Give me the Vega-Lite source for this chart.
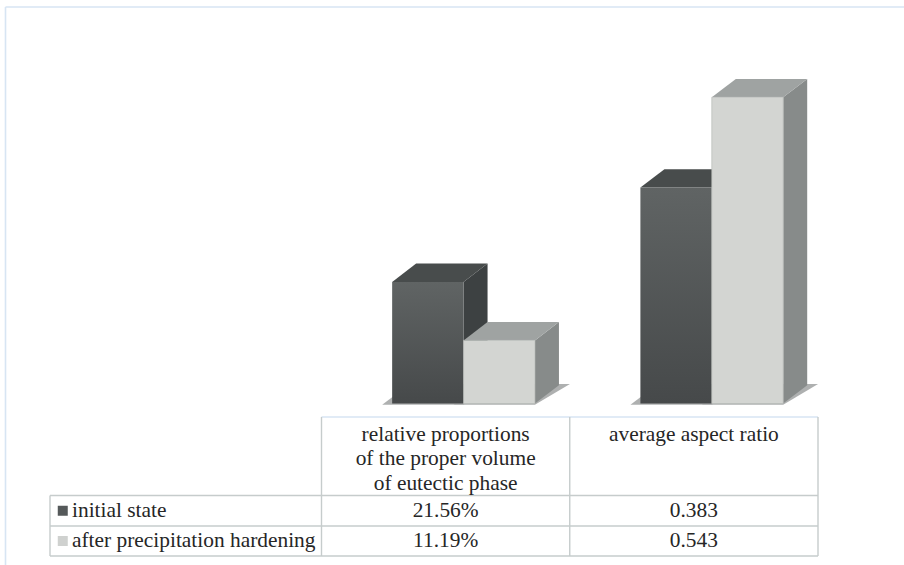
{
"$schema":"https://vega.github.io/schema/vega-lite/v6.json",
"autosize":{"type":"fit","contains":"padding"},
"width":904,"height":565,"padding":0,"background":"white",
"config":{"view":{"stroke":null}},
"datasets":{
"bars":[
{"metric":"relative proportions of the proper volume of eutectic phase","state":"initial state","value":0.2156,"group":1,"order":0},
{"metric":"relative proportions of the proper volume of eutectic phase","state":"after precipitation hardening","value":0.1119,"group":1,"order":1},
{"metric":"average aspect ratio","state":"initial state","value":0.383,"group":2,"order":0},
{"metric":"average aspect ratio","state":"after precipitation hardening","value":0.543,"group":2,"order":1}
],
"frame":[{"col":-1,"col2":4,"row":-1,"row2":-1},{"col":-1,"col2":-1,"row":-1,"row2":4},{"col":1,"col2":3,"row":0,"row2":0}],
"grid":[
{"col":0,"col2":3,"row":1,"row2":1},{"col":0,"col2":3,"row":2,"row2":2},{"col":0,"col2":3,"row":3,"row2":3},
{"col":0,"col2":0,"row":1,"row2":3},{"col":1,"col2":1,"row":0,"row2":3},{"col":2,"col2":2,"row":0,"row2":3},{"col":3,"col2":3,"row":0,"row2":3}
],
"heads":[
{"t":"relative proportions\nof the proper volume\nof eutectic phase","col":1.5,"row":0.085},
{"t":"average aspect ratio","col":2.5,"row":0.085}
],
"cells":[
{"t":"21.56%","col":1.5,"row":1.5},{"t":"0.383","col":2.5,"row":1.5},
{"t":"11.19%","col":1.5,"row":2.5},{"t":"0.543","col":2.5,"row":2.5}
],
"labels":[{"t":"initial state","col":0.081,"row":1.5},{"t":"after precipitation hardening","col":0.081,"row":2.5}],
"swatches":[{"state":"initial state","col":0.047,"row":1.5},{"state":"after precipitation hardening","col":0.047,"row":2.5}]
},
"encoding":{"x":{"field":"col","type":"quantitative","axis":null,"scale":{"domain":[-1,0,1,3,4],"range":[5.5,50,321.5,818,904],"nice":false,"zero":false}}},
"resolve":{"scale":{"y":"independent","color":"independent"}},
"layer":[
{
"data":{"name":"bars"},
"transform":[
{"calculate":"datum.group-0.003+0.2876*(1+datum.order)","as":"left"},
{"calculate":"datum.left+0.2876","as":"right"}
],
"resolve":{"scale":{"color":"independent"}},
"encoding":{"y":{"field":"v","type":"quantitative","axis":null,"scale":{"domain":[0,0.6],"range":[403.5,65.1],"nice":false,"zero":false}}},
"layer":[
{
"transform":[
{"calculate":"[0,1]","as":"edge"},{"flatten":["edge"]},
{"calculate":"datum.left-0.04+datum.edge*0.11","as":"col"},
{"calculate":"datum.right+datum.edge*0.141","as":"col2"},
{"calculate":"-0.002+datum.edge*0.0365","as":"v"}
],
"mark":{"type":"area","orient":"horizontal","color":"#aeb0b0"},
"encoding":{"x2":{"field":"col2"},"detail":[{"field":"metric"},{"field":"state"}]}
},
{
"transform":[
{"calculate":"[0,1]","as":"edge"},{"flatten":["edge"]},
{"calculate":"datum.right+datum.edge*0.0967","as":"col"},
{"calculate":"datum.edge*0.0325","as":"v"},
{"calculate":"datum.value+datum.edge*0.0325","as":"v2"}
],
"mark":{"type":"area"},
"encoding":{"y2":{"field":"v2"},"detail":{"field":"metric"},
"color":{"field":"state","type":"nominal","legend":null,"scale":{"domain":["initial state","after precipitation hardening"],"range":["#3d4142","#878b8a"]}}}
},
{
"transform":[
{"calculate":"[0,1]","as":"edge"},{"flatten":["edge"]},
{"calculate":"datum.left+datum.edge*0.0967","as":"col"},
{"calculate":"datum.right+datum.edge*0.0967","as":"col2"},
{"calculate":"datum.value+datum.edge*0.0325","as":"v"}
],
"mark":{"type":"area","orient":"horizontal"},
"encoding":{"x2":{"field":"col2"},"detail":{"field":"metric"},
"color":{"field":"state","type":"nominal","legend":null,"scale":{"domain":["initial state","after precipitation hardening"],"range":["#484c4c","#9fa3a2"]}}}
},
{
"transform":[
{"filter":"datum.order==0"},
{"calculate":"datum.left","as":"col"},{"calculate":"datum.right","as":"col2"},
{"calculate":"datum.value","as":"v"},{"calculate":"0","as":"v2"}
],
"mark":{"type":"rect","color":{"gradient":"linear","x1":0,"y1":0,"x2":0,"y2":1,"stops":[{"offset":0,"color":"#606464"},{"offset":1,"color":"#46494a"}]}},
"encoding":{"x2":{"field":"col2"},"y2":{"field":"v2"}}
},
{
"transform":[
{"filter":"datum.order==1"},
{"calculate":"datum.left","as":"col"},{"calculate":"datum.right","as":"col2"},
{"calculate":"datum.value","as":"v"},{"calculate":"0","as":"v2"}
],
"mark":{"type":"rect","color":"#d3d5d2","stroke":"#b8bbb9","strokeWidth":0.7},
"encoding":{"x2":{"field":"col2"},"y2":{"field":"v2"}}
}
]
},
{
"encoding":{"y":{"field":"row","type":"quantitative","axis":null,"scale":{"domain":[-1,0,1,2,3,4],"range":[7,417,495.5,526,556,565],"nice":false,"zero":false}}},
"layer":[
{"data":{"name":"frame"},"mark":{"type":"rule","color":"#d7e5f3","strokeWidth":1.6},"encoding":{"x2":{"field":"col2"},"y2":{"field":"row2"}}},
{"data":{"name":"grid"},"mark":{"type":"rule","color":"#c6cccc","strokeWidth":1.4},"encoding":{"x2":{"field":"col2"},"y2":{"field":"row2"}}},
{"data":{"name":"heads"},"mark":{"type":"text","font":"Liberation Serif","fontSize":21.4,"color":"#262626","align":"center","baseline":"top","lineBreak":"\n","lineHeight":24.5},"encoding":{"text":{"field":"t"}}},
{"data":{"name":"cells"},"mark":{"type":"text","font":"Liberation Serif","fontSize":21.4,"color":"#262626","align":"center","baseline":"middle"},"encoding":{"text":{"field":"t"}}},
{"data":{"name":"labels"},"mark":{"type":"text","font":"Liberation Serif","fontSize":21.4,"color":"#262626","align":"left","baseline":"middle"},"encoding":{"text":{"field":"t"}}},
{"data":{"name":"swatches"},"mark":{"type":"point","shape":"square","filled":true,"size":100,"opacity":1},
"encoding":{"color":{"field":"state","type":"nominal","legend":null,"scale":{"domain":["initial state","after precipitation hardening"],"range":["#55595a","#cfd1cf"]}}}}
]
}
]
}
